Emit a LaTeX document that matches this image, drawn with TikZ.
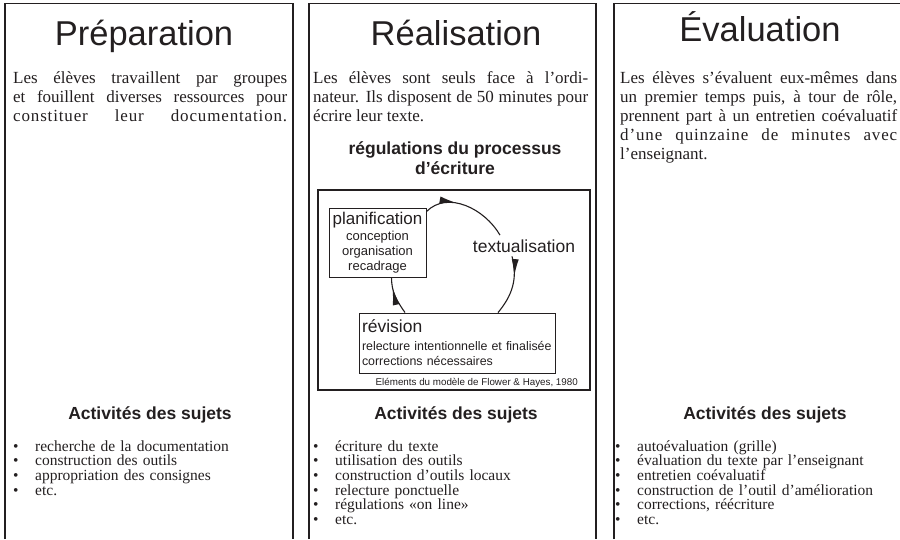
\documentclass[tikz,border=0pt]{standalone}
\usepackage{fontspec}
\setmainfont{Liberation Serif}
\setsansfont{Liberation Sans}
\usetikzlibrary{arrows.meta,decorations.markings}
\definecolor{ink}{HTML}{231F20}
\tikzset{
	panel/.style={line width=1.6pt,draw=ink},
	titre/.style={font=\sffamily\fontsize{34.5}{36}\selectfont,text=ink,anchor=base,inner sep=0pt},
	corps/.style={font=\fontsize{17}{19}\selectfont,text=ink,anchor=base west,inner sep=0pt,align=justify},
	soustitre/.style={font=\sffamily\bfseries\fontsize{17.5}{20}\selectfont,text=ink,anchor=base,inner sep=0pt,align=center},
	liste/.style={font=\fontsize{15.5}{14.7}\selectfont,text=ink,anchor=base west,inner sep=0pt,align=left,text width=275pt},
	boite/.style={draw=ink,line width=0.9pt,inner sep=0pt,text=ink},
	fleche/.style={draw=ink,line width=1.1pt,postaction={decorate},
		decoration={markings,mark=at position #1 with {\arrow[ink]{Latex[length=17pt,width=7pt]}}}},
}
\newcommand{\puce}{\makebox[22pt][l]{\textbullet}}

\begin{document}
\begin{tikzpicture}[x=1pt,y=1pt]
	\useasboundingbox (0,0) rectangle (900,-539);
	\draw[panel] (5,-539) -- (5,-3.5) -- (293,-3.5) -- (293,-539);
	\draw[panel] (309,-539) -- (309,-3.5) -- (596,-3.5) -- (596,-539);
	\draw[panel] (614,-539) -- (614,-3.5) -- (900,-3.5);
	\node[titre] (prepa) at (144,-45) {Préparation};
	\node[titre] (reali) at (456,-45) {Réalisation};
	\node[titre] (evalu) at (760,-41) {Évaluation};
	\node[corps,text width=274pt] (txtprepa) at (13,-83) {Les élèves travaillent par groupes\linebreak et fouillent diverses ressources pour\linebreak \makebox[274pt][s]{\addfontfeature{LetterSpace=5}constituer leur documentation.}};
	\node[corps,text width=275pt] (txtreali) at (313,-83) {Les élèves sont seuls face à l'ordi-\linebreak nateur. Ils disposent de 50 minutes pour\linebreak écrire leur texte.};
	\node[corps,text width=277pt] (txtevalu) at (620,-83) {Les élèves s'évaluent eux-mêmes dans\linebreak un premier temps puis, à tour de rôle,\linebreak prennent part à un entretien coévaluatif\linebreak {\addfontfeature{LetterSpace=5}d'une quinzaine de minutes avec}\linebreak l'enseignant.};
	\node[soustitre] (regul) at (455,-174) {régulations du processus\\d'écriture};
	\draw[ink,line width=1.5pt] (318,-190) rectangle (590,-390);
	\node[boite,minimum width=97pt,minimum height=69pt,align=center,font=\sffamily\fontsize{13}{15}\selectfont] (plan) at (377.5,-242.5) {{\fontsize{17}{15}\selectfont planification}\\[1pt]conception\\organisation\\recadrage};
	\node[boite,minimum width=196pt,minimum height=60pt,text width=190pt,inner xsep=3pt,align=left,font=\sffamily\fontsize{12.4}{15}\selectfont] (rev) at (457,-343) {{\fontsize{17.5}{15}\selectfont révision}\\[3pt]relecture intentionnelle et finalisée\\corrections nécessaires};
	\node[anchor=base,inner sep=4pt,font=\sffamily\fontsize{17.5}{20}\selectfont,text=ink] (texte) at (524,-252) {textualisation};
	\node[anchor=base east,inner sep=0pt,font=\sffamily\fontsize{9.8}{11}\selectfont,text=ink] (source) at (578,-385) {Eléments du modèle de Flower \& Hayes, 1980};
	\draw[fleche=0.37] ([yshift=-4pt]plan.north east) to[out=45,in=120] ([xshift=-24pt]texte.north);
	\draw[fleche=0.33] ([xshift=-12pt]texte.south) to[out=-75,in=50] ([xshift=41pt]rev.north);
	\draw[fleche=0.72] ([xshift=-52pt]rev.north) to[out=125,in=-90] ([xshift=14pt]plan.south);
	\node[soustitre] (actprepa) at (150,-419) {Activités des sujets};
	\node[soustitre] (actreali) at (456,-419) {Activités des sujets};
	\node[soustitre] (actevalu) at (765,-419) {Activités des sujets};
	\node[liste] (lstprepa) at (13,-451) {\puce recherche de la documentation\\\puce construction des outils\\\puce appropriation des consignes\\\puce etc.};
	\node[liste] (lstreali) at (313,-451) {\puce écriture du texte\\\puce utilisation des outils\\\puce construction d'outils locaux\\\puce relecture ponctuelle\\\puce régulations «on line»\\\puce etc.};
	\node[liste] (lstevalu) at (615,-451) {\puce autoévaluation (grille)\\\puce évaluation du texte par l'enseignant\\\puce entretien coévaluatif\\\puce construction de l'outil d'amélioration\\\puce corrections, réécriture\\\puce etc.};
\end{tikzpicture}
\end{document}
